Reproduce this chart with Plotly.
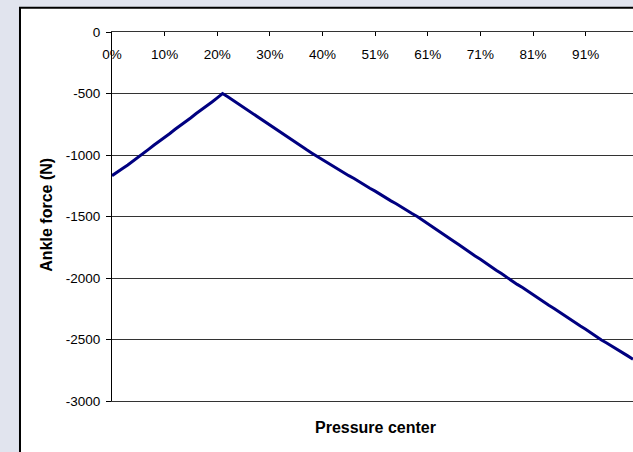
import plotly.graph_objects as go

# pressure center categories (100 steps, 0% .. 100%), labelled every 10th
tick_positions = [0, 10, 20, 30, 40, 50, 60, 70, 80, 90]
tick_labels = ["0%", "10%", "20%", "30%", "40%", "51%", "61%", "71%", "81%", "91%"]

# ankle force axis ticks
force_ticks = [0, -500, -1000, -1500, -2000, -2500, -3000]
force_tick_labels = ["0", "-500", "-1000", "-1500", "-2000", "-2500", "-3000"]

# ankle force (N)
ankle_force = [
    -1168, -1142, -1110, -1081, -1047, -1016, -983, -952, -919, -889,
    -856, -825, -791, -762, -727, -697, -663, -633, -599, -569,
    -535, -500, -527, -556, -584, -615, -642, -673, -700, -730,
    -756, -787, -813, -844, -871, -901, -928, -958, -985, -1012,
    -1036, -1063, -1088, -1116, -1140, -1168, -1191, -1219, -1243, -1270,
    -1294, -1322, -1345, -1373, -1396, -1424, -1448, -1475, -1500, -1530,
    -1557, -1588, -1615, -1646, -1673, -1704, -1732, -1763, -1790, -1821,
    -1848, -1879, -1906, -1937, -1964, -1995, -2022, -2052, -2078, -2108,
    -2135, -2165, -2191, -2221, -2248, -2278, -2304, -2334, -2361, -2391,
    -2417, -2447, -2474, -2504, -2528, -2556, -2580, -2608, -2633, -2660,
]
pressure_center = list(range(len(ankle_force)))

font = "Liberation Sans, Arial, sans-serif"

fig = go.Figure()
fig.add_trace(go.Scatter(
    x=pressure_center,
    y=ankle_force,
    mode="lines",
    line=dict(color="#000080", width=3),
    showlegend=False,
    hoverinfo="skip",
))
# same series on the overlaid label axis, invisible, so that axis gets drawn
fig.add_trace(go.Scatter(
    x=pressure_center,
    y=ankle_force,
    xaxis="x2",
    mode="lines",
    line=dict(width=0),
    opacity=0,
    showlegend=False,
    hoverinfo="skip",
))

fig.update_layout(
    width=633,
    height=452,
    margin=dict(l=112, r=0, t=32, b=51),
    paper_bgcolor="#e1e4ee",
    plot_bgcolor="white",
    font=dict(family=font, size=13.5, color="black"),
    shapes=[
        # white chart box with black frame (clipped on right/bottom)
        dict(type="rect", xref="paper", yref="paper",
             x0=-0.1766, x1=1.2, y0=-0.3, y1=1.066,
             fillcolor="white", line=dict(color="black", width=2),
             layer="below"),
    ],
    annotations=[
        dict(text="<b>Ankle force (N)</b>", xref="paper", yref="paper",
             x=-0.1273, y=0.504, xanchor="center", yanchor="middle",
             textangle=-90, showarrow=False, font=dict(size=16)),
        dict(text="<b>Pressure center</b>", xref="paper", yref="paper",
             x=0.505, y=-0.073, xanchor="center", yanchor="middle",
             showarrow=False, font=dict(size=16)),
    ],
    xaxis=dict(
        range=[0, 99],
        side="top",
        showline=True, linecolor="#333333", linewidth=1, mirror=True,
        ticks="inside", ticklen=4, tickcolor="black",
        tickvals=tick_positions, showticklabels=False,
        showgrid=False, zeroline=False,
    ),
    # category labels sit just under the top axis line
    xaxis2=dict(
        overlaying="x", anchor="free", position=1, side="bottom",
        range=[0, 99], showline=False, ticks="", showgrid=False, zeroline=False,
        tickvals=tick_positions, ticktext=tick_labels, ticklabelstandoff=12,
    ),
    yaxis=dict(
        range=[-3000, 0],
        tickvals=force_ticks, ticktext=force_tick_labels,
        showline=True, linecolor="black", linewidth=1,
        ticks="outside", ticklen=5, tickcolor="black",
        ticklabelstandoff=3,
        showgrid=True, gridcolor="#333333", gridwidth=1,
        zeroline=False,
    ),
)

fig.write_html(
    "out.html",
    config={"displayModeBar": False},
    post_script="document.body.style.margin='0px';",
)
